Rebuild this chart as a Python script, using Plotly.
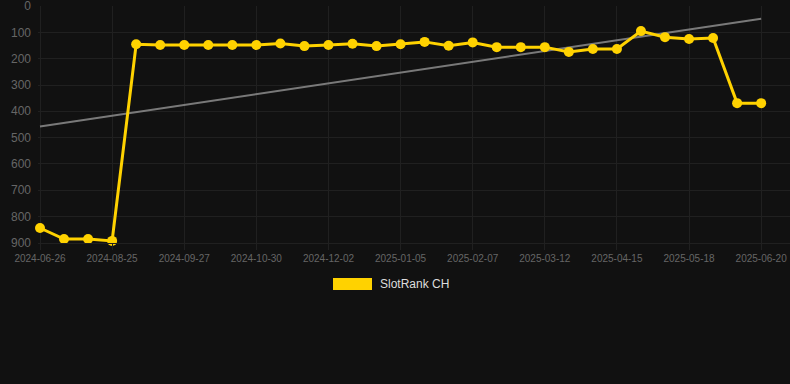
import plotly.graph_objects as go

dates = [
    "2024-06-26", "2024-07-16", "2024-08-05", "2024-08-25", "2024-09-05", "2024-09-16",
    "2024-09-27", "2024-10-08", "2024-10-19", "2024-10-30", "2024-11-10", "2024-11-21",
    "2024-12-02", "2024-12-13", "2024-12-24", "2025-01-05", "2025-01-16", "2025-01-27",
    "2025-02-07", "2025-02-18", "2025-03-01", "2025-03-12", "2025-03-23", "2025-04-04",
    "2025-04-15", "2025-04-26", "2025-05-07", "2025-05-18", "2025-05-29", "2025-06-09",
    "2025-06-20",
]
rank_ch = [
    844, 886, 886, 893, 145, 148, 148, 148, 148, 148, 142, 152,
    148, 143, 152, 145, 136, 151, 138, 156, 156, 156, 174, 163,
    163, 95, 118, 125, 121, 369, 369,
]
trend_x = [dates[0], dates[-1]]
trend_y = [458, 48]
tick_labels = dates[::3]
y_ticks = [0, 100, 200, 300, 400, 500, 600, 700, 800, 900]

YELLOW = "#FFD200"
BG = "#111111"
GRID = "#202020"

L, T, B, W, H = 38, 6, 141, 790, 384
PW, PH = W - L, H - T - B


def px_x(p):
    return (p - L) / PW


def px_y(p):
    return (H - B - p) / PH


fig = go.Figure()
fig.add_trace(go.Scatter(
    x=trend_x, y=trend_y, mode="lines",
    line=dict(color="rgba(140,140,140,0.85)", width=2),
    showlegend=False, hoverinfo="skip",
))
fig.add_trace(go.Scatter(
    x=dates, y=rank_ch, mode="lines+markers", name="SlotRank CH",
    line=dict(color=YELLOW, width=3),
    marker=dict(color=YELLOW, size=10),
    cliponaxis=False, showlegend=False,
))

fig.update_layout(
    width=W, height=H,
    paper_bgcolor=BG, plot_bgcolor=BG,
    margin=dict(l=L, r=0, t=T, b=B),
    font=dict(family="Liberation Sans, Arial, sans-serif", color="#666666"),
    xaxis=dict(
        type="category", categoryorder="array", categoryarray=dates,
        range=[-0.083, 31.2],
        tickmode="array", tickvals=tick_labels, ticktext=tick_labels,
        tickfont=dict(size=10, color="#666666"),
        showgrid=True, gridcolor=GRID, gridwidth=1,
        ticks="outside", ticklen=6, tickcolor=GRID,
        showline=True, linecolor=GRID, zeroline=False,
        ticklabeloverflow="allow",
    ),
    yaxis=dict(
        range=[901, -0.5],
        tickmode="array", tickvals=y_ticks,
        tickfont=dict(size=12, color="#666666"),
        showgrid=True, gridcolor=GRID, gridwidth=1,
        zeroline=False, ticklabelstandoff=6,
        ticklabeloverflow="allow",
    ),
    shapes=[dict(
        type="rect", xref="paper", yref="paper",
        x0=px_x(333), x1=px_x(372),
        y0=px_y(290), y1=px_y(278),
        fillcolor=YELLOW, line=dict(width=0),
    )],
    annotations=[dict(
        text="SlotRank CH", xref="paper", yref="paper",
        x=px_x(378), y=px_y(284),
        xanchor="left", yanchor="middle", showarrow=False,
        font=dict(size=12, color="#DDDDDD"),
    )],
)

fig.write_html(
    "out.html",
    config={"displayModeBar": False},
    post_script="document.body.style.margin='0';document.body.style.padding='0';"
                "document.body.style.background='#111111';",
)
